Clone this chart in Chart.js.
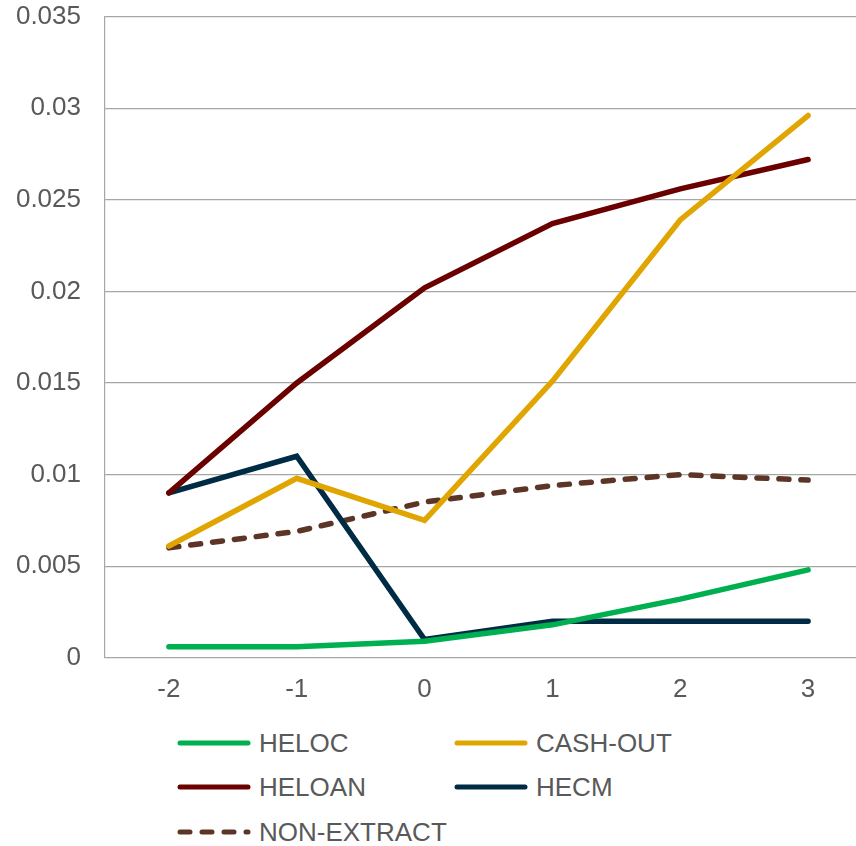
<!DOCTYPE html>
<html>
<head>
<meta charset="utf-8">
<script src="https://cdn.jsdelivr.net/npm/chart.js@4"></script>
<style>
  html, body { margin: 0; padding: 0; background: #fff; overflow: hidden; }
  #wrap { position: relative; width: 872px; height: 846px; }
  #chartBox { position: absolute; left: 0; top: -23px; width: 872px; height: 744px; }
  .leg { position: absolute; display: flex; align-items: center; height: 30px;
         font-family: "Liberation Sans", Arial, sans-serif; font-size: 26px; color: #595959; }
  .leg svg { margin-right: 6px; }
</style>
</head>
<body>
<div id="wrap">
  <div id="chartBox"><canvas id="chart"></canvas></div>
  <div id="legend"></div>
</div>
<script>
/* DATA */
const years = ["-2", "-1", "0", "1", "2", "3"];
const heloc      = [0.0006, 0.0006, 0.0009, 0.0018, 0.0032, 0.0048];
const cashOut    = [0.0061, 0.0098, 0.0075, 0.0151, 0.0239, 0.0296];
const heloan     = [0.0090, 0.0150, 0.0202, 0.0237, 0.0256, 0.0272];
const hecm       = [0.0090, 0.0110, 0.0010, 0.0020, 0.0020, 0.0020];
const nonExtract = [0.0060, 0.0069, 0.0085, 0.0094, 0.0100, 0.0097];

const textColor = "#595959";
const gridColor = "#a6a6a6";
const font = { family: "'Liberation Sans', Arial, sans-serif", size: 26 };

function series(label, data, color, dash) {
  return {
    label, data,
    borderColor: color,
    backgroundColor: color,
    borderWidth: 5.5,
    borderCapStyle: "round",
    borderJoinStyle: "miter",
    borderDash: dash || [],
    pointRadius: 0,
    tension: 0,
    fill: false
  };
}

const chart = new Chart(document.getElementById("chart"), {
  type: "line",
  data: {
    labels: years,
    datasets: [
      series("HELOC", heloc, "#00b050"),
      series("CASH-OUT", cashOut, "#e0a500"),
      series("HELOAN", heloan, "#6b0000"),
      series("HECM", hecm, "#002b45"),
      series("NON-EXTRACT", nonExtract, "#5c3526", [10, 12])
    ]
  },
  options: {
    responsive: true,
    maintainAspectRatio: false,
    animation: false,
    layout: { padding: { top: 0, bottom: 0, left: 0, right: 0 } },
    plugins: { legend: { display: false }, tooltip: { enabled: false } },
    scales: {
      x: {
        offset: true,
        grid: { display: false, drawTicks: false },
        border: { display: false },
        ticks: { color: textColor, font, padding: 16, maxRotation: 0 }
      },
      y: {
        min: 0,
        max: 0.035,
        afterFit: (s) => { s.width = 105; },
        grid: { color: gridColor, lineWidth: 1.2, drawTicks: false },
        border: { display: true, color: gridColor, width: 1.2 },
        ticks: {
          stepSize: 0.005,
          color: textColor,
          font,
          padding: 24,
          callback: (v) => String(+v.toFixed(3))
        }
      }
    }
  }
});

/* LEGEND (html, from datasets) */
const legendPos = [
  { x: 180, y: 743 }, { x: 457, y: 743 },
  { x: 180, y: 787 }, { x: 457, y: 787 },
  { x: 180, y: 832 }
];
const legend = document.getElementById("legend");
chart.data.datasets.forEach((ds, i) => {
  const p = legendPos[i];
  const item = document.createElement("div");
  item.className = "leg";
  item.style.left = (p.x - 3) + "px";
  item.style.top = (p.y - 15) + "px";
  const dash = ds.borderDash.length ? 'stroke-dasharray="10 12"' : "";
  item.innerHTML =
    `<svg width="76" height="10"><line x1="3" y1="5" x2="71" y2="5" stroke="${ds.borderColor}" ` +
    `stroke-width="5" stroke-linecap="round" ${dash}/></svg><span>${ds.label}</span>`;
  legend.appendChild(item);
});
</script>
</body>
</html>
